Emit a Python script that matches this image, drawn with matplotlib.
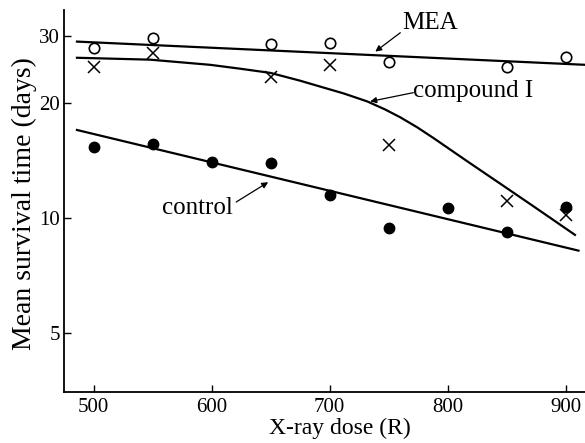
import matplotlib
matplotlib.use("Agg")
import matplotlib.pyplot as plt
from matplotlib.ticker import FixedLocator, NullLocator, FixedFormatter

plt.rcParams['font.family'] = ['Liberation Serif', 'DejaVu Serif']

# observed points
mea_dose = [500, 550, 650, 700, 750, 850, 900]
mea_val = [27.9, 29.7, 28.6, 28.8, 25.6, 24.8, 26.5]

cmp_dose = [500, 550, 650, 700, 750, 850, 900]
cmp_val = [24.8, 27.1, 23.4, 25.1, 15.5, 11.1, 10.2]

ctl_dose = [500, 550, 600, 650, 700, 750, 800, 850, 900]
ctl_val = [15.3, 15.6, 14.0, 13.9, 11.5, 9.4, 10.6, 9.2, 10.7]

# fitted lines
mea_fit_dose = [486, 917]
mea_fit_val = [29.0, 25.2]

ctl_fit_dose = [486, 911]
ctl_fit_val = [17.0, 8.2]

cmp_fit_dose = [486, 548, 599, 625, 650, 675, 692, 712, 732, 747, 760,
                774, 788, 817, 845, 873, 908]
cmp_fit_val = [26.3, 26.0, 25.2, 24.6, 24.0, 22.9, 22.1, 21.2, 20.2, 19.25,
               18.35, 17.3, 16.2, 14.05, 12.27, 10.71, 9.02]

y_ticks = [5, 10, 20, 30]
y_tick_labels = ['5', '10', '20', '30']
x_ticks = [500, 600, 700, 800, 900]

fig = plt.figure(figsize=(5.85, 4.43), dpi=100)
ax = fig.add_axes([64/585, 51/443, 521/585, 382/443])

lw = 1.6
ax.plot(mea_fit_dose, mea_fit_val, color='black', lw=lw)
ax.plot(ctl_fit_dose, ctl_fit_val, color='black', lw=lw)
ax.plot(cmp_fit_dose, cmp_fit_val, color='black', lw=lw)

ax.plot(mea_dose, mea_val, linestyle='none', marker='o', ms=7.5,
        markerfacecolor='white', markeredgecolor='black', mew=1.2)
ax.plot(cmp_dose, cmp_val, linestyle='none', marker='x', ms=8.5,
        color='black', mew=1.1)
ax.plot(ctl_dose, ctl_val, linestyle='none', marker='o', ms=7.5,
        color='black')

ax.set_yscale('log')
ax.set_xlim(475, 916.5)
ax.set_ylim(3.49, 35.1)
ax.yaxis.set_major_locator(FixedLocator(y_ticks))
ax.yaxis.set_major_formatter(FixedFormatter(y_tick_labels))
ax.yaxis.set_minor_locator(NullLocator())
ax.set_xticks(x_ticks)

for s in ['top', 'right']:
    ax.spines[s].set_visible(False)
for s in ['left', 'bottom']:
    ax.spines[s].set_linewidth(1.3)

ax.tick_params(axis='both', direction='in', length=5, width=1.0,
               labelsize=15)
ax.tick_params(axis='y', pad=3)
ax.tick_params(axis='x', pad=4)

ax.set_xlabel('X-ray dose (R)', fontsize=17)
ax.set_ylabel('Mean survival time (days)', fontsize=20)
ax.xaxis.set_label_coords(0.530, -0.068)
ax.yaxis.set_label_coords(-0.052, 0.492)

arrow = dict(arrowstyle='-|>', color='black', lw=0.9, mutation_scale=9,
             shrinkA=0, shrinkB=0)

ax.text(761.7, 32.4, 'MEA', fontsize=18, ha='left', va='center')
ax.annotate('', xy=(738.8, 27.3), xytext=(760, 30.6), arrowprops=arrow)

ax.text(771, 21.5, 'compound I', fontsize=18, ha='left', va='center')
ax.annotate('', xy=(734.5, 20.2), xytext=(771, 21.3), arrowprops=arrow)

ax.text(558.1, 10.6, 'control', fontsize=18, ha='left', va='center')
ax.annotate('', xy=(648, 12.4), xytext=(620.9, 11.0), arrowprops=arrow)

fig.savefig('out.png', dpi=100)
